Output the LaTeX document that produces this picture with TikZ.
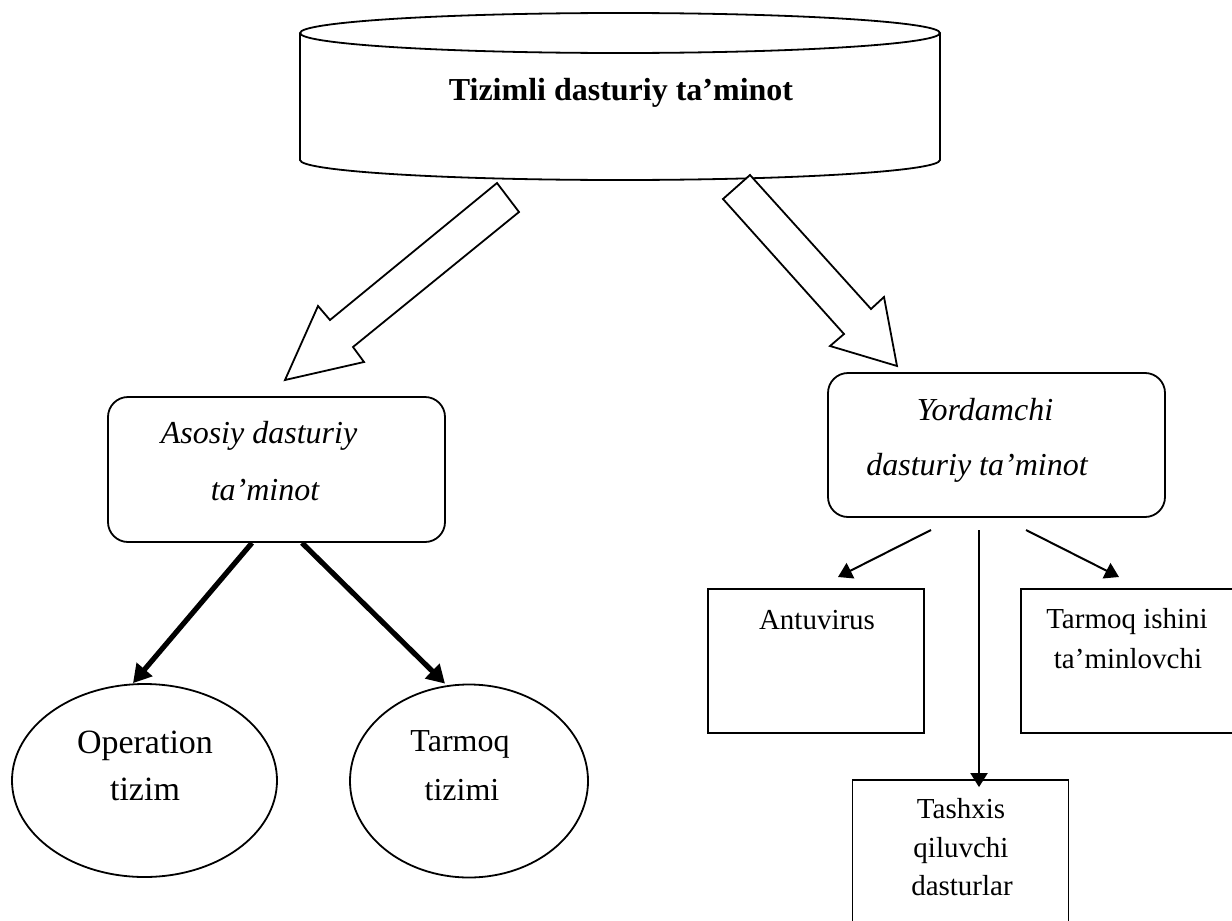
\documentclass[tikz,border=0pt]{standalone}
\usepackage{fontspec}
\setmainfont{Liberation Serif}
\usetikzlibrary{arrows.meta,calc,shapes.geometric}
\begin{document}
\begin{tikzpicture}[x=0.5pt,y=0.5pt,
  outline/.style={draw=black,line width=0.9pt},
  roundbox/.style={outline,rounded corners=10pt,inner sep=0pt},
  plainbox/.style={outline,inner sep=0pt},
  oval/.style={outline,ellipse,inner sep=0pt},
  blockarrow/.style={outline,fill=white,line join=miter},
  thickarrow/.style={line width=2.6pt,-{Triangle[length=9pt,width=10pt]}},
  thinarrow/.style={line width=1pt,-{Triangle[length=7pt,width=8.5pt]}},
  lbl/.style={anchor=base,inner sep=0pt},
  titlefont/.style={font=\fontsize{16}{19}\selectfont\bfseries},
  itfont/.style={font=\fontsize{16}{19}\selectfont\itshape},
  boxfont/.style={font=\fontsize{14.5}{17}\selectfont},
  ovalfont/.style={font=\fontsize{17}{20}\selectfont},
  netfont/.style={font=\fontsize{16}{19}\selectfont},
]
\useasboundingbox (0,0) rectangle (1232,-921);
\clip (0,0) rectangle (1232,-921);

% top cylinder
\draw[outline] (620,-33) ellipse [x radius=320, y radius=20];
\draw[outline] (300,-33) -- (300,-160)
  arc[start angle=180, end angle=360, x radius=320, y radius=20]
  -- (940,-33);
\node[lbl,titlefont] (title) at (621,-100) {Tizimli dasturiy ta’minot};

% hollow block arrows
\draw[blockarrow] (497,-183) -- (519,-212) -- (353,-347) -- (364,-362)
  -- (285,-380) -- (318,-306) -- (330,-320) -- cycle;
\draw[blockarrow] (750,-175) -- (871,-309) -- (884,-297) -- (897,-366)
  -- (830,-346) -- (844,-334) -- (723,-199) -- cycle;

% second level boxes
\node[roundbox,minimum width=168.5pt,minimum height=72.5pt] (asosiy) at (276.5,-469.5) {};
\node[lbl,itfont] (asosiy1) at (259,-443) {Asosiy dasturiy};
\node[lbl,itfont] (asosiy2) at (265,-500) {ta’minot};

\node[roundbox,minimum width=168.5pt,minimum height=72pt] (yordam) at (996.5,-445) {};
\node[lbl,itfont] (yordam1) at (985,-420) {Yordamchi};
\node[lbl,itfont] (yordam2) at (977,-475) {dasturiy ta’minot};

% ellipses under the left box
\node[oval,minimum width=132.5pt,minimum height=96.5pt] (opsys) at (144.5,-780.5) {};
\node[lbl,ovalfont] (opsys1) at (145,-753) {Operation};
\node[lbl,ovalfont] (opsys2) at (145,-800) {tizim};

\node[oval,minimum width=119pt,minimum height=96.5pt] (net) at (469,-781) {};
\node[lbl,netfont] (net1) at (460,-751) {Tarmoq};
\node[lbl,netfont] (net2) at (462,-800) {tizimi};

% boxes under the right box
\node[plainbox,minimum width=108pt,minimum height=72pt] (anti) at (816,-661) {};
\node[lbl,boxfont] (anti1) at (817,-629) {Antuvirus};

\node[plainbox,minimum width=107pt,minimum height=72pt] (netsup) at (1128,-661) {};
\node[lbl,boxfont] (netsup1) at (1127,-628) {Tarmoq ishini};
\node[lbl,boxfont] (netsup2) at (1128,-668) {ta’minlovchi};

\node[plainbox,minimum width=108pt,minimum height=80pt] (diag) at (960.5,-860) {};
\node[lbl,boxfont] (diag1) at (961,-818) {Tashxis};
\node[lbl,boxfont] (diag2) at (961,-857) {qiluvchi};
\node[lbl,boxfont] (diag3) at (962,-895) {dasturlar};

% connectors
\coordinate (a1) at ($(asosiy.south)+(-24.5,0)$);
\coordinate (a2) at ($(asosiy.south)+(25.5,0)$);
\coordinate (o1) at ($(opsys.north)+(-11.5,0)$);
\coordinate (o2) at ($(net.north)+(-24,0)$);
\draw[thickarrow] (a1) -- (o1);
\draw[thickarrow] (a2) -- (o2);

\coordinate (y1) at (931,-530);
\coordinate (y2) at (979,-530);
\coordinate (y3) at (1026,-530);
\coordinate (t1) at (838,-577);
\coordinate (t2) at ($(diag.north -| y2)+(0,-8)$);
\coordinate (t3) at (1119,-577);
\draw[thinarrow] (y1) -- (t1);
\draw[thinarrow] (y2) -- (t2);
\draw[thinarrow] (y3) -- (t3);
\end{tikzpicture}
\end{document}
